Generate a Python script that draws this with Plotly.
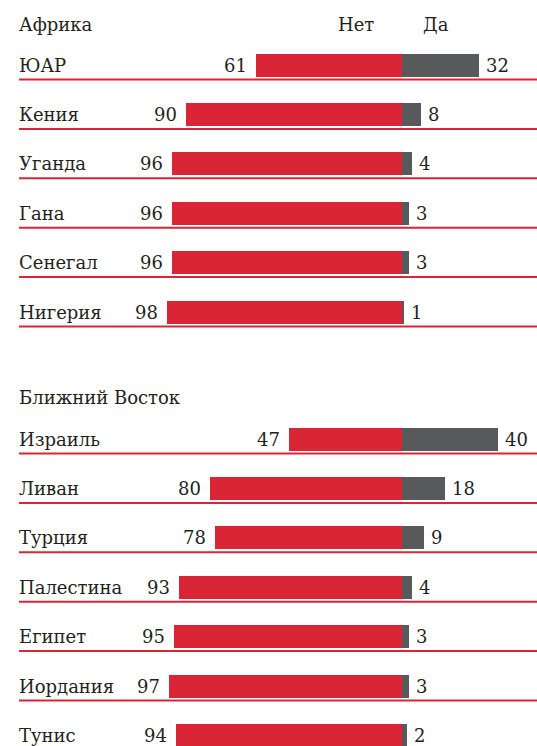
import plotly.graph_objects as go

# Africa
africa = ["ЮАР", "Кения", "Уганда", "Гана", "Сенегал", "Нигерия"]
africa_no = [61, 90, 96, 96, 96, 98]
africa_yes = [32, 8, 4, 3, 3, 1]

# Middle East
mideast = ["Израиль", "Ливан", "Турция", "Палестина", "Египет", "Иордания", "Тунис"]
mideast_no = [47, 80, 78, 93, 95, 97, 94]
mideast_yes = [40, 18, 9, 4, 3, 3, 2]

RED = "#d92536"
GREY = "#58595b"
INK = "#231f20"
FONT = "'DejaVu Serif', serif"

W, H = 537, 746
CENTER = 402      # pixel of the zero line
SCALE = 2.4       # px per percent
STEP = 49.4

# row positions (pixel units, y axis reversed)
y_af = [65 + i * STEP for i in range(len(africa))]
y_me = [439 + i * STEP for i in range(len(mideast))]

names = africa + mideast
no = africa_no + mideast_no
yes = africa_yes + mideast_yes
ys = y_af + y_me


def txt_font(size):
    return dict(family=FONT, size=size, color=INK)


fig = go.Figure()
fig.add_trace(go.Bar(y=ys, x=[-v for v in no], orientation="h", width=23,
                     marker=dict(color=RED, line_width=0), hoverinfo="skip"))
fig.add_trace(go.Bar(y=ys, x=yes, orientation="h", width=23,
                     marker=dict(color=GREY, line_width=0), hoverinfo="skip"))

ann = []
shapes = []
for name, n, d, y in zip(names, no, yes, ys):
    ann.append(dict(x=19 / W, xref="paper", y=y, yref="y", text=name, showarrow=False,
                    xanchor="left", yanchor="middle", xshift=-2, font=txt_font(18)))
    ann.append(dict(x=-n, y=y, text=str(n), showarrow=False, xanchor="right",
                    yanchor="middle", xshift=-7, font=txt_font(18)))
    ann.append(dict(x=d, y=y, text=str(d), showarrow=False, xanchor="left",
                    yanchor="middle", xshift=5, font=txt_font(18)))
    shapes.append(dict(type="line", xref="paper", x0=19 / W, x1=1, yref="y",
                       y0=y + 14.5, y1=y + 14.5, line=dict(color=RED, width=2)))

headers = [("Африка", 19, 24, "left"), ("Ближний Восток", 19, 397, "left"),
           ("Нет", 356, 24, "center"), ("Да", 436, 24, "center")]
for txt, px_x, px_y, anchor in headers:
    ann.append(dict(x=px_x / W, xref="paper", y=px_y, yref="y", text=txt, showarrow=False,
                    xanchor=anchor, yanchor="middle", xshift=-2 if anchor == "left" else 0,
                    font=txt_font(18)))

fig.update_layout(
    width=W, height=H,
    margin=dict(l=0, r=0, t=0, b=0),
    barmode="relative", bargap=0,
    plot_bgcolor="white", paper_bgcolor="white",
    showlegend=False,
    font=dict(family=FONT, color=INK),
    xaxis=dict(range=[-CENTER / SCALE, (W - CENTER) / SCALE], visible=False, fixedrange=True),
    yaxis=dict(range=[H, 0], visible=False, fixedrange=True),
    annotations=ann,
    shapes=shapes,
)

fig.write_html("out.html", config={"displayModeBar": False},
               post_script="document.body.style.margin='0';")
